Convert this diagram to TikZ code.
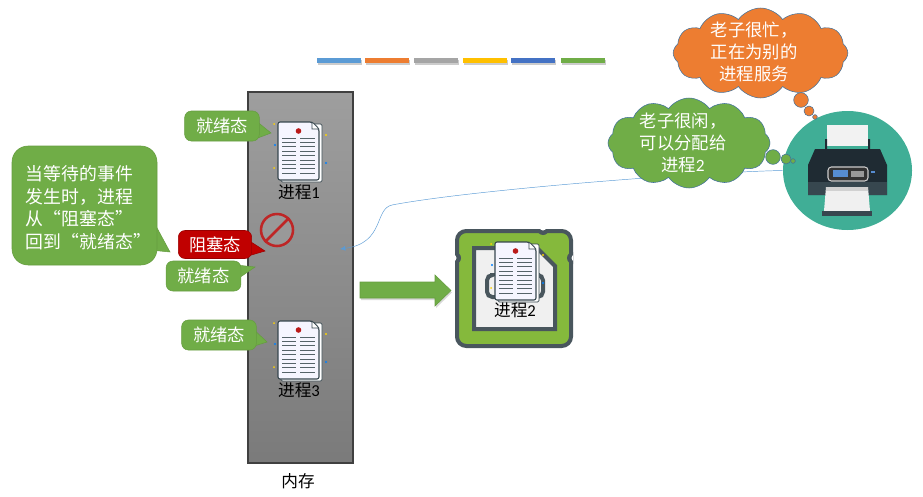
\documentclass[tikz,border=0pt]{standalone}
\usepackage{fontspec}
\setmainfont{Carlito}
\newfontfamily\cjk{Noto Sans CJK SC}
\usetikzlibrary{shapes, shapes.symbols, arrows.meta}
\definecolor{okgreen}{HTML}{70AD47}
\definecolor{okedge}{HTML}{659C40}
\definecolor{busyorange}{HTML}{ED7D31}
\definecolor{cloudedge}{HTML}{41719C}
\definecolor{stopred}{HTML}{C00000}
\definecolor{inkdark}{HTML}{37474F}
\definecolor{iconedge}{HTML}{49565D}
\definecolor{printerbody}{HTML}{1F2B33}
\definecolor{printerteal}{HTML}{40AE96}
\definecolor{linkblue}{HTML}{5B9BD5}
\tikzset{
    say/.style = {rounded corners=5pt, inner sep=0pt, text=white, align=center, font=\fontsize{13}{17}\selectfont\cjk},
    greenbox/.style = {say, fill=okgreen, draw=okedge, minimum width=56pt, minimum height=22.5pt},
    redbox/.style = {say, fill=stopred, draw=stopred!80!black, minimum width=55pt, minimum height=21pt},
    greentail/.style = {fill=okgreen, draw=okedge},
    redtail/.style = {fill=stopred, draw=stopred!80!black},
    cloudbox/.style = {cloud, cloud puffs=12, cloud puff arc=110, cloud ignores aspect, draw=cloudedge, inner sep=0pt},
    cloudtext/.style = {inner sep=0pt, text=white, align=center, font=\fontsize{13}{16.5}\selectfont\cjk},
    puff/.style = {circle, draw=cloudedge, inner sep=0pt},
    proclabel/.style = {inner sep=0pt, font=\fontsize{12.5}{15}\selectfont},
    wire/.style = {-{Latex[length=4pt,width=3.5pt]}, draw=linkblue, line width=.35pt},
    docicon/.pic = {
        \draw[fill=white, draw=inkdark, line width=.5pt, rounded corners=1pt] (3,2) rectangle (44,60);
        \draw[fill=blue!4, draw=inkdark, line width=.8pt, rounded corners=1.5pt] (0,0) -- (34,0) -- (41,7) -- (41,58) -- (0,58) -- cycle;
        \draw[fill=white, draw=inkdark, line width=.4pt] (34,0) -- (34,7) -- (41,7) -- cycle;
        \fill[red!70!black!90] (20.5,9) circle (2.8);
        \foreach \y in {16,20.4,...,55}{
            \draw[inkdark!85, line width=.6pt] (4,\y) -- (18,\y);
            \draw[inkdark!85, line width=.6pt] (22,\y) -- (37,\y);
        }
        \fill[yellow!70!orange] (-4,2) circle (1) (-4,46) circle (1) (48,13) circle (1.2);
        \fill[blue!50!cyan] (-3,23) circle (1.2) (48,41) circle (1.2);
    }
}
\begin{document}
\begin{tikzpicture}[x=.75pt,y=-.75pt]
  \useasboundingbox (0,0) rectangle (923,496);

  % colour bars
  \foreach \xa/\xb/\barcolor in {317/361/5B9BD5, 365/409/ED7D31, 414/458/A5A5A5, 463/507/FFC000, 511/555/4472C4, 561/605/70AD47}{
      \definecolor{barfill}{HTML}{\barcolor}
      \fill[gray!40] (\xa+1,60) rectangle (\xb+1,65);
      \fill[barfill] (\xa,58) rectangle (\xb,63);
  }

  % memory
  \node[rectangle, draw=black!75, line width=1pt, top color=black!38, bottom color=black!52, minimum width=78.75pt, minimum height=278.25pt, inner sep=0pt] (memory) at (300.5,277.5) {};
  \node[proclabel] (memlabel) at (298,481) {\cjk 内存};

  \pic (doc1) at (278,122) {docicon};
  \node[proclabel] (label1) at (299,192) {{\cjk 进程}1};
  \pic (doc3) at (278,321) {docicon};
  \node[proclabel] (label3) at (299,390) {{\cjk 进程}3};

  % forbidden sign
  \node[circle, draw=red!70!black!85, fill=black!40, line width=1.9pt, minimum size=24pt, inner sep=0pt] (stop) at (277,230) {};
  \draw[red!70!black!85, line width=1.9pt] (stop.45) -- (stop.225);

  % callouts
  \path[greentail] (255,120) -- (271,133) -- (255,139) -- cycle;
  \node[greenbox] (ready1) at (222,126) {就绪态};
  \path[greentail] (236,265) -- (255,267) -- (236,280) -- cycle;
  \node[greenbox] (ready2) at (203.5,276) {就绪态};
  \path[greentail] (251,327) -- (267,342) -- (251,347) -- cycle;
  \node[greenbox] (ready3) at (219,335) {就绪态};
  \path[redtail] (248,240) -- (265,251) -- (248,256) -- cycle;
  \node[redbox] (blocked) at (215,244.5) {阻塞态};
  \path[greentail] (150,215) -- (170,252) -- (150,250) -- cycle;
  \node[say, fill=okgreen, draw=okedge, rounded corners=12pt, align=left, text width=88pt, minimum width=108.75pt, minimum height=89.25pt, font=\fontsize{13.4}{17}\selectfont\cjk] (wakeup) at (84.5,205.5)
     {\rule{0pt}{14.5pt}当等待的事件\\发生时，进程\\从“阻塞态”\\回到“就绪态”};

  % big arrow
  \path[fill=gray!30] (361,284) -- (436,284) -- (436,277) -- (452,292.5) -- (436,308) -- (436,300) -- (361,300) -- cycle;
  \path[fill=okgreen, draw=okedge, line width=.4pt] (360,282) -- (435,282) -- (435,275) -- (451,290.5) -- (435,306) -- (435,298) -- (360,298) -- cycle;

  % editor icon
  \draw[fill=okgreen!85!yellow, draw=iconedge, line width=3pt, rounded corners=7pt] (457,231) rectangle (571,346);
  \begin{scope}
    \clip (455,229) rectangle (573,348);
    \fill[iconedge] (543,229) circle (6) (455,258) circle (6) (573,258) circle (6);
    \fill[white] (543,227) circle (3.5) (453,258) circle (3.5) (575,258) circle (3.5);
  \end{scope}
  \draw[fill=black!6, draw=iconedge, line width=3pt] (474,248) -- (537,248) -- (555,266) -- (555,329) -- (474,329) -- cycle;
  \draw[draw=iconedge, line width=3pt, rounded corners=4pt] (490,275) -- (487,275) -- (487,297) -- (543,297) -- (543,275) -- (540,275);
  \pic (doc2) at (495,242) {docicon};
  \node[proclabel] (label2) at (515,310) {{\cjk 进程}2};

  % printer
  \node[ellipse, fill=printerteal, minimum width=96.75pt, minimum height=89.25pt, inner sep=0pt] (printer) at (847.5,170.5) {};
  \fill[black!5] (827,125) rectangle (868,146);
  \fill[printerbody] (825,139) rectangle (827,150) (868,139) rectangle (870,150);
  \fill[printerbody] (815,149) -- (880,149) -- (887,165) -- (887,195) -- (808,195) -- (808,165) -- cycle;
  \fill[inkdark] (808,182) rectangle (887,195);
  \draw[fill=black!80, draw=black!20, line width=.8pt, rounded corners=2.5pt] (828,167) rectangle (868,181);
  \fill[cyan!50!blue!70] (833,170) rectangle (848,177);
  \fill[black!40] (851,171) rectangle (864,177);
  \fill[cyan!50!blue!70] (871,171) rectangle (875,173);
  \fill[black!6] (826,187) -- (868,187) -- (870,211) -- (824,211) -- cycle;
  \fill[black!18] (826,187) rectangle (868,191);
  \fill[inkdark] (822,211) rectangle (872,216);

  % thin link
  \coordinate (memin) at (340,249);
  \coordinate (knee) at (392,205);
  \path[wire] (printer.west) .. controls (700,172) and (470,190) .. (knee) .. controls (374,209) and (385,243) .. (memin);

  % clouds
  \node[cloudbox, fill=busyorange, minimum width=131pt, minimum height=67.5pt] (busy) at (760.5,53) {};
  \node[cloudtext] (busytext) at (754,52) {老子很忙，\\正在为别的\\进程服务};
  \node[puff, fill=busyorange, minimum size=11pt] (busy1) at (801,100) {};
  \node[puff, fill=busyorange, minimum size=7.5pt] (busy2) at (809,111) {};
  \node[puff, fill=busyorange, minimum size=3.5pt] (busy3) at (815,117) {};
  \node[cloudbox, fill=okgreen, minimum width=121.5pt, minimum height=67.5pt] (idle) at (689,143) {};
  \node[cloudtext] (idletext) at (683,143) {老子很闲，\\可以分配给\\进程{\rmfamily 2}};
  \node[puff, fill=okgreen, minimum size=11pt] (idle1) at (773,157) {};
  \node[puff, fill=okgreen, minimum size=7.5pt] (idle2) at (786,159) {};
  \node[puff, fill=okgreen, minimum size=3.5pt] (idle3) at (793,161) {};
\end{tikzpicture}
\end{document}
